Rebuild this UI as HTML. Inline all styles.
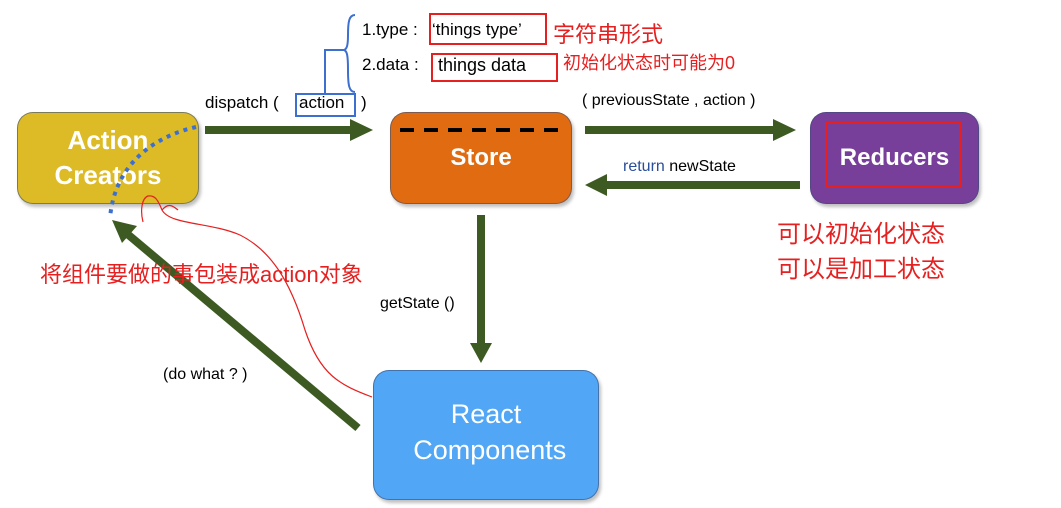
<!DOCTYPE html>
<html><head><meta charset="utf-8"><style>
body{margin:0;width:1061px;height:508px;background:#fff;overflow:hidden;position:relative;font-family:"Liberation Sans","Noto Sans CJK SC",sans-serif}
.t{position:absolute;white-space:nowrap}
.box{position:absolute;border-radius:16px;color:#fff;font-weight:bold;display:flex;align-items:center;justify-content:center;text-align:center;box-shadow:2px 3px 3px rgba(0,0,0,.25);border:1px solid rgba(60,80,120,.6)}
</style></head><body>
<div class="box" style="left:17px;top:112px;width:180px;height:90px;background:#dcbb26;font-size:26px;line-height:35px">Action<br>Creators</div>
<div class="box" style="left:390px;top:112px;width:180px;height:90px;background:#e06b10;font-size:24px">Store</div>
<div class="box" style="left:810px;top:112px;width:167px;height:90px;background:#773e9a;font-size:24px">Reducers</div>
<div class="box" style="left:373px;top:370px;width:224px;height:128px;background:#51a6f6;font-size:27px;line-height:36px;font-weight:normal"><div style="margin-top:-6px">React<br>&nbsp;Components</div></div>
<svg width="1061" height="508" style="position:absolute;left:0;top:0">
<g fill="#3c5a22" stroke="#3c5a22">
<line x1="205" y1="130" x2="352" y2="130" stroke-width="8"/><polygon points="350,119 373,130 350,141" stroke="none"/>
<line x1="585" y1="130" x2="775" y2="130" stroke-width="8"/><polygon points="773,119 796,130 773,141" stroke="none"/>
<line x1="800" y1="185" x2="605" y2="185" stroke-width="8"/><polygon points="607,174 585,185 607,196" stroke="none"/>
<line x1="481" y1="215" x2="481" y2="345" stroke-width="8"/><polygon points="470,343 481,363 492,343" stroke="none"/>
<line x1="358" y1="428" x2="125" y2="232" stroke-width="8"/><polygon points="112,220 137,226 122,243" stroke="none"/>
</g>
<line x1="400" y1="130" x2="568" y2="130" stroke="#000" stroke-width="4" stroke-dasharray="14,10"/>
<path d="M196,127 C160,135 115,160 110,218" fill="none" stroke="#3d6fd0" stroke-width="4" stroke-dasharray="4,5"/>
<path d="M372,397 C340,385 320,375 305,330 C290,280 270,250 240,235 C210,222 170,225 162,210 C158,200 155,195 148,196 C142,198 140,210 143,222 M162,210 C168,203 172,205 178,210" fill="none" stroke="#e62020" stroke-width="1.2"/>
<rect x="296" y="94" width="59" height="22" fill="none" stroke="#3d6fd0" stroke-width="2"/>
<path d="M325,94 V50 H345" fill="none" stroke="#3d6fd0" stroke-width="2"/>
<path d="M355,15 C349,15 348,22 348,35 C348,45 347,49 344,50 C347,51 348,55 348,70 C348,85 349,92 355,92" fill="none" stroke="#3d6fd0" stroke-width="2"/>
<rect x="430" y="14" width="116" height="30" fill="none" stroke="#e62020" stroke-width="2"/>
<rect x="432" y="54" width="125" height="27" fill="none" stroke="#e62020" stroke-width="2"/>
<rect x="826" y="123" width="134" height="64" fill="none" stroke="#e62020" stroke-width="2"/>
</svg>
<div class="t" style="left:362px;top:20px;font-size:17px">1.type :</div>
<div class="t" style="left:432px;top:20px;font-size:17px">‘things type’</div>
<div class="t" style="left:362px;top:55px;font-size:17px">2.data :</div>
<div class="t" style="left:438px;top:55px;font-size:18px">things data</div>
<div class="t" style="left:553px;top:17px;font-size:22px;color:#e62020">字符串形式</div>
<div class="t" style="left:563px;top:49px;font-size:18px;color:#e62020">初始化状态时可能为0</div>
<div class="t" style="left:205px;top:93px;font-size:17px">dispatch (</div>
<div class="t" style="left:299px;top:93px;font-size:17px">action</div>
<div class="t" style="left:361px;top:93px;font-size:17px">)</div>
<div class="t" style="left:582px;top:92px;font-size:16px">( previousState , action )</div>
<div class="t" style="left:623px;top:158px;font-size:16px"><span style="color:#2a4e9a">return</span> newState</div>
<div class="t" style="left:777px;top:217px;font-size:24px;color:#e62020;line-height:35px">可以初始化状态<br>可以是加工状态</div>
<div class="t" style="left:40px;top:257px;font-size:22px;color:#e62020">将组件要做的事包装成action对象</div>
<div class="t" style="left:380px;top:295px;font-size:16px">getState ()</div>
<div class="t" style="left:163px;top:366px;font-size:16px">(do what ? )</div>
</body></html>
